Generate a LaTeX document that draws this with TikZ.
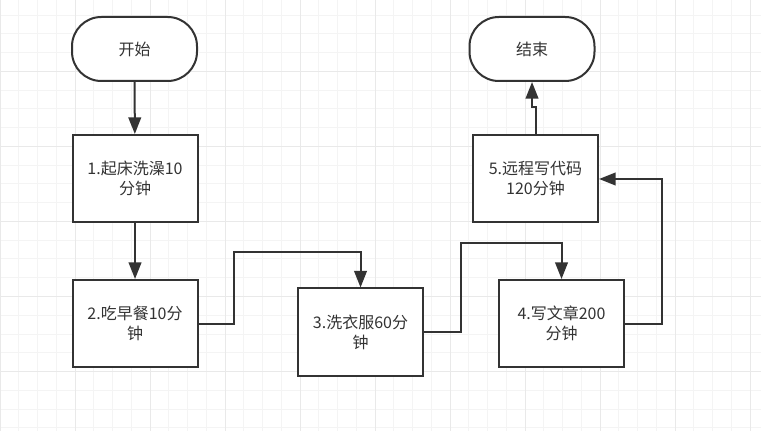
\documentclass[tikz,border=0pt]{standalone}
\usepackage{fontspec}
\newfontfamily\cjk{Noto Sans CJK SC}
\usetikzlibrary{arrows.meta,calc}
\definecolor{ink}{RGB}{51,51,51}
\definecolor{txt}{RGB}{51,51,51}
\definecolor{gridminor}{RGB}{244,244,244}
\definecolor{gridmajor}{RGB}{233,233,233}
\tikzset{
  box/.style={draw=ink, line width=1.5pt, fill=white, rectangle,
    minimum width=93.75pt, minimum height=65.25pt, inner sep=0pt,
    align=center, text=txt, font=\cjk\fontsize{12pt}{15pt}\selectfont},
  term/.style={box, minimum height=48pt, rounded corners=22pt},
  conn/.style={draw=ink, line width=1.5pt,
    -{Triangle[length=12.5pt,width=9.5pt]}},
}
\begin{document}
\begin{tikzpicture}[x=0.75pt,y=-0.75pt]
\useasboundingbox (0,0) rectangle (761,431);
\fill[white] (0,0) rectangle (761,431);
% grid
\foreach \i in {0,...,40} {
  \draw[gridminor, line width=0.75pt] ({\i*18.75},0) -- ({\i*18.75},431);
}
\foreach \i in {1,...,23} {
  \draw[gridminor, line width=0.75pt] (0,{-3.5+\i*18.75}) -- (761,{-3.5+\i*18.75});
}
\foreach \i in {0,...,10} {
  \draw[gridmajor, line width=0.75pt] ({\i*75},0) -- ({\i*75},431);
}
\foreach \i in {1,...,5} {
  \draw[gridmajor, line width=0.75pt] (0,{-3.5+\i*75}) -- (761,{-3.5+\i*75});
}
% nodes
\node[term] (s)  at (134.5,49)  {开始};
\node[box]  (b1) at (135,178.5) {1.起床洗澡10\\分钟};
\node[box]  (b2) at (135,323.5) {2.吃早餐10分\\钟};
\node[box]  (b3) at (360.5,332) {3.洗衣服60分\\钟};
\node[box]  (b4) at (561.5,323.5) {4.写文章200\\分钟};
\node[box]  (b5) at (535.5,179) {5.远程写代码\\120分钟};
\node[term] (e)  at (532,49)    {结束};
% bend points
\coordinate (c1) at (234,252);
\coordinate (c2) at (460.7,243);
\coordinate (c3) at (661.7,250);
\coordinate (c4) at ($(e.south)+(0,25)$);
% connectors
\draw[conn] (s) -- (b1);
\draw[conn] (b1) -- (b2);
\draw[conn] (b2.east) -| (c1) -| (b3.north);
\draw[conn] (b3.east) -| (c2) -| (b4.north);
\draw[conn] (b4.east) -| (c3) |- (b5.east);
\draw[conn] (b5.north) |- (c4) -- (e.south);
\end{tikzpicture}
\end{document}
